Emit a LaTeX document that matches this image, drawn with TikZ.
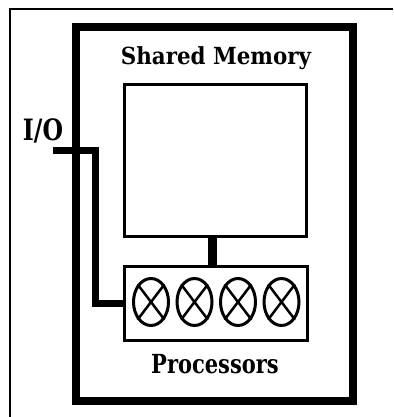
\documentclass[tikz,border=0pt]{standalone}
\usepackage{fontspec}
\setmainfont{DejaVu Serif}
\usepackage{tikz}
\usepackage{xcolor}
\usetikzlibrary{shapes.geometric}

\begin{document}
\begin{tikzpicture}[x=1pt,y=-1pt,
  lbl/.style={font=\bfseries\fontsize{21}{21}\selectfont,anchor=base,inner sep=0pt},
  cpu/.style={draw,ellipse,line width=3pt,minimum width=35pt,minimum height=47pt,inner sep=0pt}]
\useasboundingbox[fill=white] (0,0) rectangle (393,417);
% outer frame (cut at right and bottom)
\draw[line width=1.5pt] (10,417) -- (10,9) -- (393,9);
% machine
\draw[line width=8pt] (76,27.5) rectangle (353,401);
\node[lbl] (memlbl) at (216,65) {\scalebox{1.02}[1.12]{Shared Memory}};
\node[draw,line width=3pt,minimum width=182pt,minimum height=151.5pt,inner sep=0pt] (mem) at (215.5,160.75) {};
\node[draw,line width=3pt,minimum width=183pt,minimum height=73.5pt,inner sep=0pt] (proc) at (215.5,303.25) {};
\node[cpu] (p1) at (151,302) {};
\node[cpu] (p2) at (194.5,302) {};
\node[cpu] (p3) at (238,302) {};
\node[cpu] (p4) at (281.5,302) {};
\draw[line width=2.5pt] (p1.north west) -- (p1.south east) (p1.north east) -- (p1.south west);
\draw[line width=2.5pt] (p2.north west) -- (p2.south east) (p2.north east) -- (p2.south west);
\draw[line width=2.5pt] (p3.north west) -- (p3.south east) (p3.north east) -- (p3.south west);
\draw[line width=2.5pt] (p4.north west) -- (p4.south east) (p4.north east) -- (p4.south west);
\node[lbl] (proclbl) at (215,373) {\scalebox{1}[1.25]{Processors}};
% bus
\draw[line width=9pt] ([xshift=-3pt]mem.south) -- ([xshift=-3pt]proc.north);
% I/O line
\node[lbl] (iolbl) at (43,140) {\scalebox{1.12}[1.4]{I/O}};
\coordinate (io) at (53,150);
\draw[line width=7pt] (io) -- (95,150) |- (proc.west);
\end{tikzpicture}
\end{document}
